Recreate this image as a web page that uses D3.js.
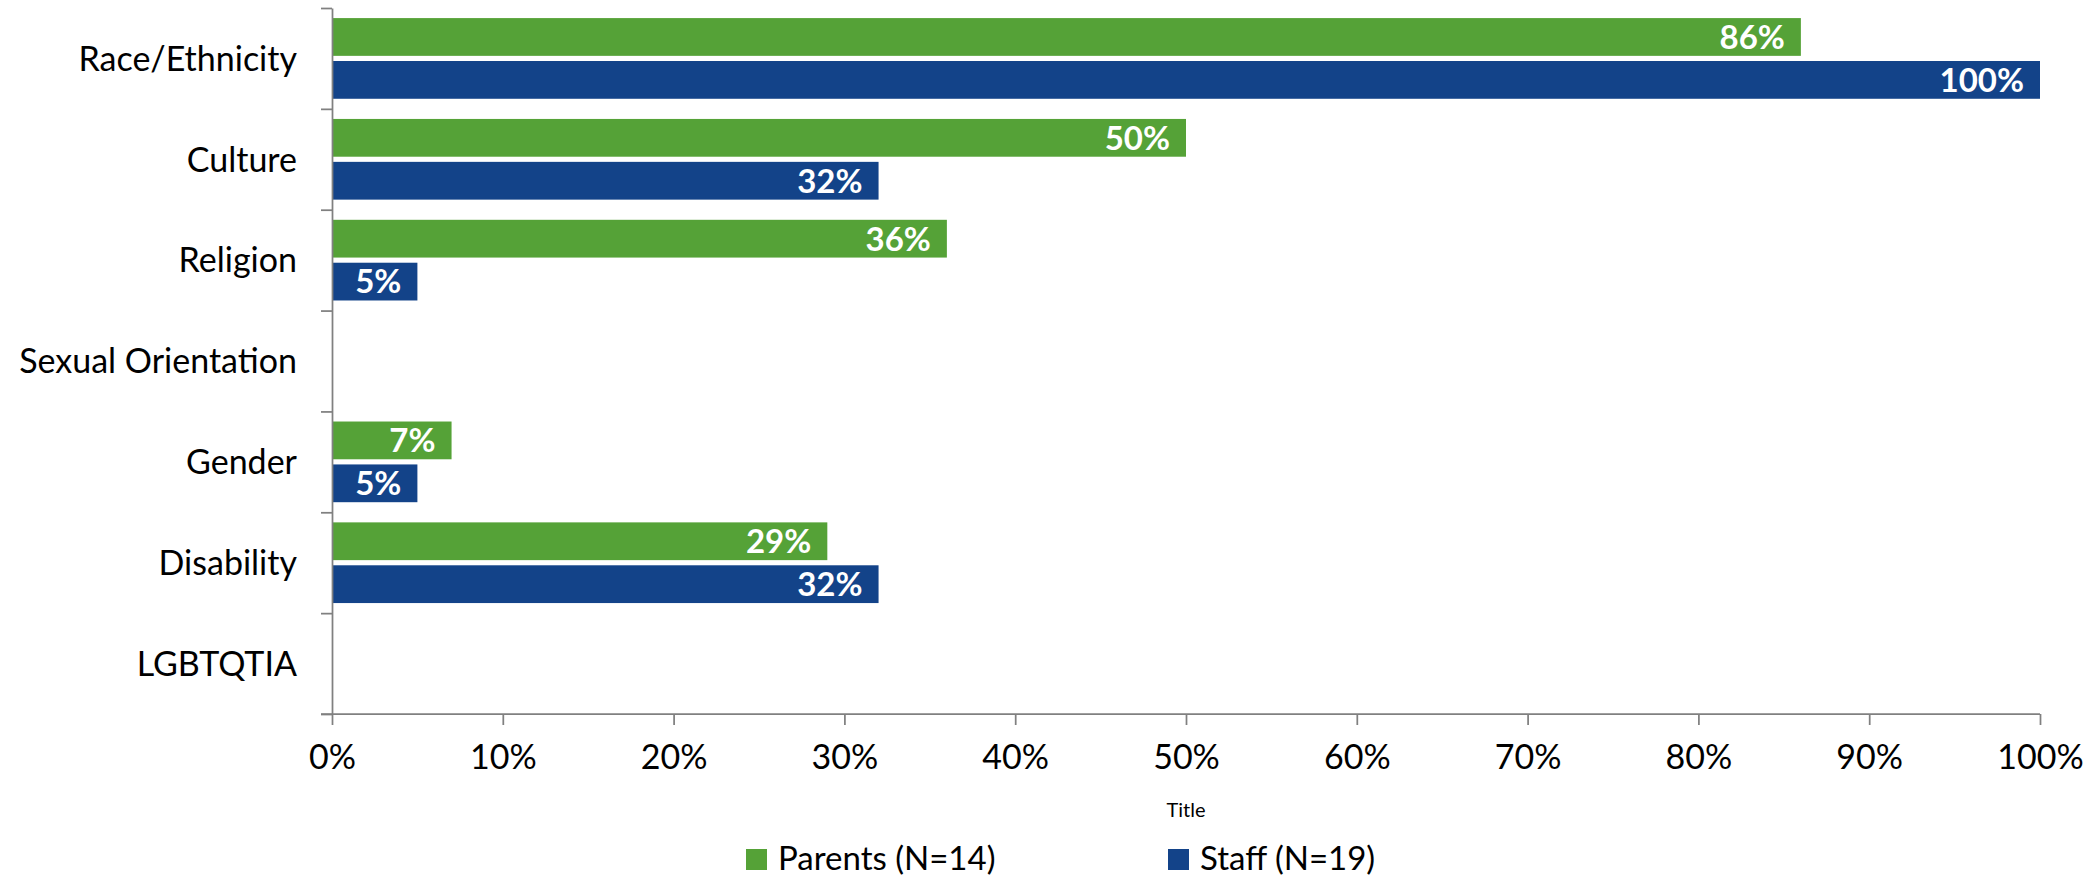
<!DOCTYPE html>
<head>
  <meta charset="utf-8">
  <script src="https://d3js.org/d3.v7.min.js"></script>
  <style>
    body { margin:0; background:#fff; }
    text { font-family: Lato, "Open Sans", sans-serif; fill:#000; }
    .axis path, .axis line { stroke:#808080; stroke-width:1.75px; }
    .barlabel { fill:#fff; font-weight:bold; }
  </style>
</head>
<body>
<script>
  // data
  var categories = ["Race/Ethnicity", "Culture", "Religion", "Sexual Orientation", "Gender", "Disability", "LGBTQTIA"];
  var seriesNames = ["Parents (N=14)", "Staff (N=19)"];
  var parents = [86, 50, 36, 0, 7, 29, 0];
  var staff = [100, 32, 5, 0, 5, 32, 0];
  var xTicks = [0, 10, 20, 30, 40, 50, 60, 70, 80, 90, 100];
  var colors = ["#55a237", "#134389"];

  var W = 2099, H = 878;
  var margin = {top: 8, right: 59, bottom: 164, left: 332},
      width = W - margin.left - margin.right,
      height = H - margin.top - margin.bottom;

  var svg = d3.select("body").append("svg")
      .attr("width", W)
      .attr("height", H);

  var g = svg.append("g")
      .attr("transform", "translate(" + margin.left + "," + margin.top + ")");

  var x = d3.scaleLinear().domain([0, 100]).range([0, width]);

  var y = d3.scaleBand()
      .domain(categories)
      .range([0, height])
      .paddingInner(0.2)
      .paddingOuter(0.1);

  // band boundaries for the category ticks (Excel style, between groups)
  var yEdge = d3.scaleLinear().domain([0, categories.length]).range([0, height]);

  var ySub = d3.scaleBand()
      .domain(seriesNames)
      .range([0, y.bandwidth()])
      .paddingInner(0.12);

  var rows = categories.map(function(c, i) {
    return {cat: c, vals: [
      {name: seriesNames[0], v: parents[i], color: colors[0]},
      {name: seriesNames[1], v: staff[i], color: colors[1]}
    ]};
  });

  var groups = g.selectAll(".grp").data(rows).enter().append("g")
      .attr("class", "grp")
      .attr("transform", function(d) { return "translate(0," + y(d.cat) + ")"; });

  groups.selectAll("rect").data(function(d) { return d.vals; }).enter()
    .append("rect")
      .attr("x", x(0))
      .attr("y", function(d) { return ySub(d.name); })
      .attr("width", function(d) { return x(d.v) - x(0); })
      .attr("height", ySub.bandwidth())
      .attr("fill", function(d) { return d.color; });

  groups.selectAll(".barlabel").data(function(d) { return d.vals.filter(function(v) { return v.v > 0; }); }).enter()
    .append("text")
      .attr("class", "barlabel")
      .attr("x", function(d) { return x(d.v) - 16; })
      .attr("y", function(d) { return ySub(d.name) + ySub.bandwidth() / 2; })
      .attr("dy", "0.36em")
      .attr("text-anchor", "end")
      .style("font-size", "33px")
      .text(function(d) { return d.v + "%"; });

  // y axis: ticks between categories
  g.append("g")
      .attr("class", "axis")
      .call(d3.axisLeft(yEdge).tickValues(d3.range(categories.length + 1)).tickSize(11).tickSizeOuter(0).tickFormat(""));

  // category labels
  g.selectAll(".catlabel").data(categories).enter()
    .append("text")
      .attr("class", "catlabel")
      .attr("x", -35)
      .attr("y", function(d) { return y(d) + y.bandwidth() / 2; })
      .attr("dy", "0.36em")
      .attr("text-anchor", "end")
      .style("font-size", "34px")
      .text(function(d) { return d; });

  // x axis
  var xAxis = g.append("g")
      .attr("class", "axis")
      .attr("transform", "translate(0," + height + ")")
      .call(d3.axisBottom(x).tickValues(xTicks).tickSize(11).tickSizeOuter(0).tickPadding(20)
        .tickFormat(function(d) { return d + "%"; }));
  xAxis.selectAll("text").style("font-size", "34px").attr("fill", "#000");
  xAxis.select(".domain").attr("d", "M-11,0H" + width);

  g.append("text")
      .attr("x", width / 2)
      .attr("y", height + 103)
      .attr("text-anchor", "middle")
      .style("font-size", "20px")
      .text("Title");

  // legend
  var legendX = [746, 1168];
  var legend = svg.selectAll(".legend").data(seriesNames).enter().append("g")
      .attr("class", "legend")
      .attr("transform", function(d, i) { return "translate(" + legendX[i] + ",849)"; });
  legend.append("rect")
      .attr("width", 21)
      .attr("height", 21)
      .attr("fill", function(d, i) { return colors[i]; });
  legend.append("text")
      .attr("x", 32)
      .attr("y", 10)
      .attr("dy", "0.34em")
      .style("font-size", "33px")
      .text(function(d) { return d; });
</script>
</body>
